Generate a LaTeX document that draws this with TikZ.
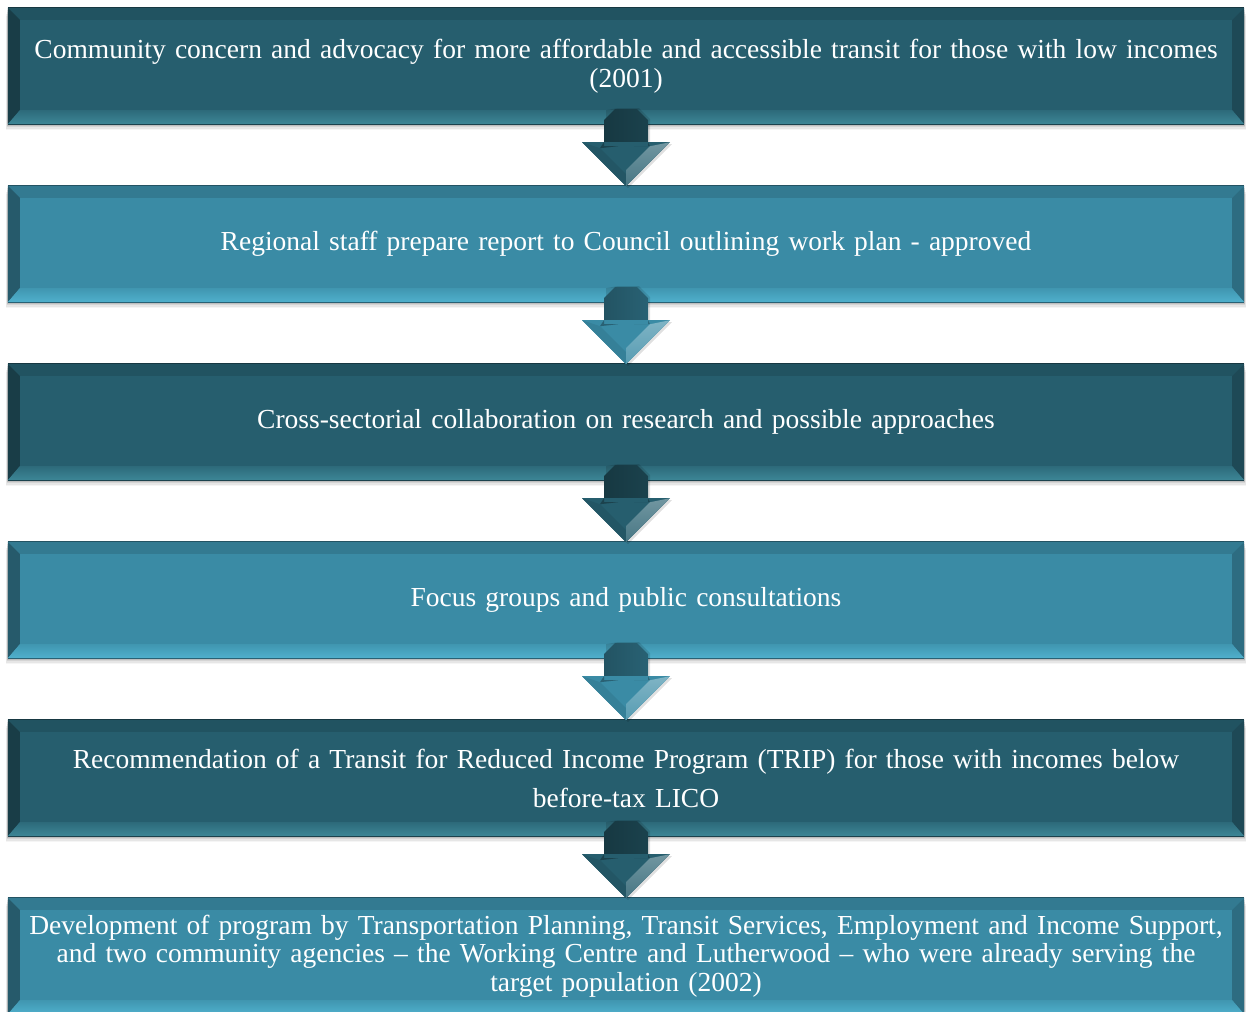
\documentclass[tikz,border=0pt]{standalone}
\usepackage{fontspec}
\setmainfont{Liberation Serif}
\usetikzlibrary{calc}
\definecolor{tealdark}{HTML}{265E6E}
\definecolor{teallight}{HTML}{3A8BA5}
\definecolor{hidark}{HTML}{3D8696}
\definecolor{hilight}{HTML}{4FB0CC}
\tikzset{
  stagebox/.style={minimum width=1236pt, minimum height=116pt, inner sep=0pt,
    text=white, align=center, text width=1230pt,
    font=\fontsize{27.5}{28.5}\selectfont},
}
% bevelled box: name, top edge, fill colour, highlight colour, text
\newcommand\bevelbox[6][]{%
  \foreach \o/\a in {2/0.10,4/0.08,6/0.06,8/0.04}{
    \fill[black,opacity=\a] (8-\o*0.3,#3+\o) rectangle (1244+\o*0.3,#3+116+\o*0.8);
  }
  \node[stagebox,fill=#4,#1] (#2) at (626,#3+58) {\raisebox{-2pt}{\parbox{1230pt}{\centering #6}}};
  \fill[#4!88!black] (#2.north west) -- (#2.north east) -- ++(-12,12) -- ($(#2.north west)+(12,12)$) -- cycle;
  \fill[#4!65!black] (#2.north west) -- ($(#2.north west)+(12,12)$) -- ($(#2.south west)+(12,-14)$) -- (#2.south west) -- cycle;
  \fill[#4!78!black] (#2.north east) -- ($(#2.north east)+(-12,12)$) -- ($(#2.south east)+(-12,-14)$) -- (#2.south east) -- cycle;
  \path[top color=#4!70!#5, bottom color=#5] (#2.south west) -- ($(#2.south west)+(12,-14)$) -- ($(#2.south east)+(-12,-14)$) -- (#2.south east) -- cycle;
  \draw[#4!60!black,line width=1pt] (#2.north west) -- (#2.north east);
  \draw[#4!70!black,line width=1pt] (#2.south west) -- (#2.south east);
}
% block arrow from the lower edge of one box to the top of the next
\newcommand\blockarrow[3]{%
  \begin{scope}[shift={(#1.south)}]
    \fill[black,opacity=0.12] (-20,-14) -- (-9,-16) -- (13,-16) -- (24,-5) -- (24,20) -- (46,20) -- (2,64) -- (-42,20) -- (-20,20) -- cycle;
    \path[left color=#3!60!black, middle color=#3!96!white, right color=#3!70!black]
      (-22,-4) -- (-11,-15) -- (11,-15) -- (22,-4) -- (22,20) -- (-22,20) -- cycle;
    \fill[#3] (-22,18) -- (-44,18) -- (0,62) -- (44,18) -- (22,18) -- cycle;
    \fill[#3!92!black] (-44,18) -- (0,62) -- (0,50) -- (-26,24) -- cycle;
    \path[top color=#3!65!white, bottom color=#3!85!white] (44,18) -- (0,62) -- (0,46) -- (24,22) -- cycle;
    \fill[#3!70!black] (-22,18) -- (-26,24) -- (-8,22) -- (-22,22) -- cycle;
    \fill[#3!75!black] (22,18) -- (24,22) -- (8,22) -- (22,22) -- cycle;
  \end{scope}
}
\begin{document}
\begin{tikzpicture}[x=1pt,y=-1pt]
\useasboundingbox (0,0) rectangle (1246,1011);
\fill[white] (0,0) rectangle (1246,1011);

\bevelbox{s1}{8}{tealdark}{hidark}{Community concern and advocacy for more affordable and accessible transit for those with low incomes\\(2001)}
\bevelbox{s2}{186}{teallight}{hilight}{Regional staff prepare report to Council outlining work plan - approved}
\bevelbox{s3}{364}{tealdark}{hidark}{Cross-sectorial collaboration on research and possible approaches}
\bevelbox{s4}{542}{teallight}{hilight}{Focus groups and public consultations}
\bevelbox[font=\fontsize{27.5}{39}\selectfont]{s5}{720}{tealdark}{hidark}{Recommendation of a Transit for Reduced Income Program (TRIP) for those with incomes below\\before-tax LICO}
\bevelbox{s6}{898}{teallight}{hilight}{Development of program by Transportation Planning, Transit Services, Employment and Income Support,\\and two community agencies – the Working Centre and Lutherwood – who were already serving the\\target population (2002)}

\blockarrow{s1}{s2}{tealdark}
\blockarrow{s2}{s3}{teallight}
\blockarrow{s3}{s4}{tealdark}
\blockarrow{s4}{s5}{teallight}
\blockarrow{s5}{s6}{tealdark}
\end{tikzpicture}
\end{document}
